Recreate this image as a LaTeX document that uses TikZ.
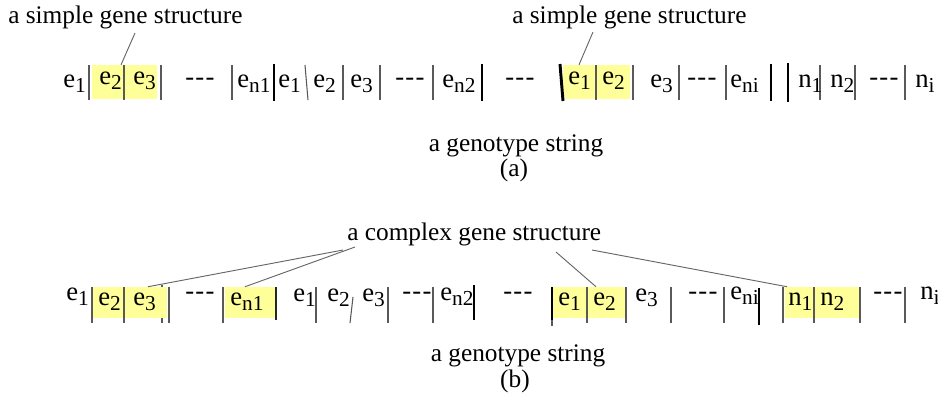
\documentclass[tikz,border=0pt]{standalone}
\usepackage{fontspec}
\setmainfont{Liberation Serif}
\usetikzlibrary{fit}
\definecolor{hly}{RGB}{255,255,153}
\newcommand{\gsb}[1]{\raisebox{-4pt}{\fontsize{16}{16}\selectfont #1}}
\newcommand{\dsh}{-\kern1pt-\kern1pt-}
\begin{document}
\begin{tikzpicture}[x=0.75pt,y=-0.75pt,
 tok/.style={font=\fontsize{20}{24}\selectfont, inner sep=0pt, anchor=base west},
 lbl/.style={font=\fontsize{19}{23}\selectfont, inner sep=0pt},
 thinbar/.style={draw=black!65, line width=0.8pt},
 medbar/.style={draw=black!85, line width=1.6pt},
 thickbar/.style={draw=black, line width=2.2pt},
 hl/.style={fill=hly, draw=none, inner sep=0pt},
 conn/.style={draw=black!60, line width=0.7pt}]
\useasboundingbox (0,0) rectangle (938,408);

% ---------- (a) ----------
\node[hl, fit={(92,65) (157,99)}] (ha1) {};
\node[hl, fit={(563,65) (630,99)}] (ha2) {};
\foreach \x in {89,124,161,232,343,380,433,596,633,679,726,820,855,905}
  \draw[thinbar] (\x,65) -- (\x,100);
\foreach \x in {274,482,771}
  \draw[thickbar] (\x,64) -- (\x,101);
\draw[thinbar] (305,65) -- (308,100);
\draw[thickbar] (560,64) -- (563,101);
\draw[thickbar] (788,63) -- (788,102);

\node[tok] (a1) at (63,87) {e\gsb{1}};
\node[tok] (a2) at (99,84) {e\gsb{2}};
\node[tok] (a3) at (133,84) {e\gsb{3}};
\node[tok] (a4) at (185,85) {\dsh};
\node[tok] (a5) at (237,87) {e\gsb{n1}};
\node[tok] (a6) at (278,87) {e\gsb{1}};
\node[tok] (a7) at (313,87) {e\gsb{2}};
\node[tok] (a8) at (350,87) {e\gsb{3}};
\node[tok] (a9) at (395,85) {\dsh};
\node[tok] (a10) at (442,87) {e\gsb{n2}};
\node[tok] (a11) at (505,85) {\dsh};
\node[tok] (a12) at (568,84) {e\gsb{1}};
\node[tok] (a13) at (602,84) {e\gsb{2}};
\node[tok] (a14) at (650,87) {e\gsb{3}};
\node[tok] (a15) at (687,85) {\dsh};
\node[tok] (a16) at (730,87) {e\gsb{ni}};
\node[tok] (a17) at (798,87) {n\gsb{1}};
\node[tok] (a18) at (830,87) {n\gsb{2}};
\node[tok] (a19) at (869,85) {\dsh};
\node[tok] (a20) at (915,87) {n\gsb{i}};

\node[lbl, anchor=base west] (la) at (8,23) {a simple gene structure};
\node[lbl, anchor=base west] (lb) at (512,23) {a simple gene structure};
\node[lbl, anchor=base] (ga) at (516,151) {a genotype string};
\node[lbl, anchor=base] (pa) at (514,176) {(a)};

\coordinate (s1) at (135,33);
\coordinate (s2) at (593,32);
\draw[conn] (s1) -- ([xshift=-2.6pt]ha1.north);
\draw[conn] (s2) -- ([xshift=-13.1pt]ha2.north);

% ---------- (b) ----------
\draw[thinbar] (162,285) -- (162,323);
\node[hl, fit={(93,287) (167,318)}] (hb1) {};
\node[hl, fit={(225,287) (275,318)}] (hb2) {};
\node[hl, fit={(553,287) (625,318)}] (hb3) {};
\node[hl, fit={(785,287) (860,318)}] (hb4) {};
\foreach \x in {92,124,169,223,316,388,433,587,626,671,724,783,814,860,905}
  \draw[thinbar] (\x,287) -- (\x,323);
\draw[thinbar] (353,297) -- (350,323);
\draw[medbar] (276,287) -- (276,320);
\draw[thickbar] (474,285) -- (474,320);
\draw[thinbar] (552,287) -- (552,326);
\draw[thickbar] (552,287) -- (552,320);
\draw[thickbar] (759,288) -- (759,325);

\node[tok] (b1) at (66,300) {e\gsb{1}};
\node[tok] (b2) at (98,305) {e\gsb{2}};
\node[tok] (b3) at (133,305) {e\gsb{3}};
\node[tok] (b4) at (185,299) {\dsh};
\node[tok] (b5) at (230,305) {e\gsb{n1}};
\node[tok] (b6) at (293,301) {e\gsb{1}};
\node[tok] (b7) at (327,301) {e\gsb{2}};
\node[tok] (b8) at (362,301) {e\gsb{3}};
\node[tok] (b9) at (402,299) {\dsh};
\node[tok] (b10) at (440,300) {e\gsb{n2}};
\node[tok] (b11) at (503,299) {\dsh};
\node[tok] (b12) at (558,305) {e\gsb{1}};
\node[tok] (b13) at (593,305) {e\gsb{2}};
\node[tok] (b14) at (635,301) {e\gsb{3}};
\node[tok] (b15) at (688,299) {\dsh};
\node[tok] (b16) at (730,299) {e\gsb{ni}};
\node[tok] (b17) at (788,305) {n\gsb{1}};
\node[tok] (b18) at (820,305) {n\gsb{2}};
\node[tok] (b19) at (873,299) {\dsh};
\node[tok] (b20) at (920,299) {n\gsb{i}};

\node[lbl, anchor=base west] (lc) at (347,240) {a complex gene structure};
\node[lbl, anchor=base] (gb) at (518,361) {a genotype string};
\node[lbl, anchor=base] (pb) at (515,387) {(b)};

\coordinate (s3) at (343,250);
\coordinate (s4) at (355,247);
\coordinate (s5) at (556,252);
\coordinate (s6) at (592,250);
\draw[conn] (s3) -- ([xshift=13.5pt]hb1.north);
\draw[conn] (s4) -- ([xshift=-3.75pt]hb2.north);
\draw[conn] (s5) -- ([xshift=5.25pt]hb3.north);
\draw[conn] (s6) -- ([xshift=-26.6pt]hb4.north);
\end{tikzpicture}
\end{document}
